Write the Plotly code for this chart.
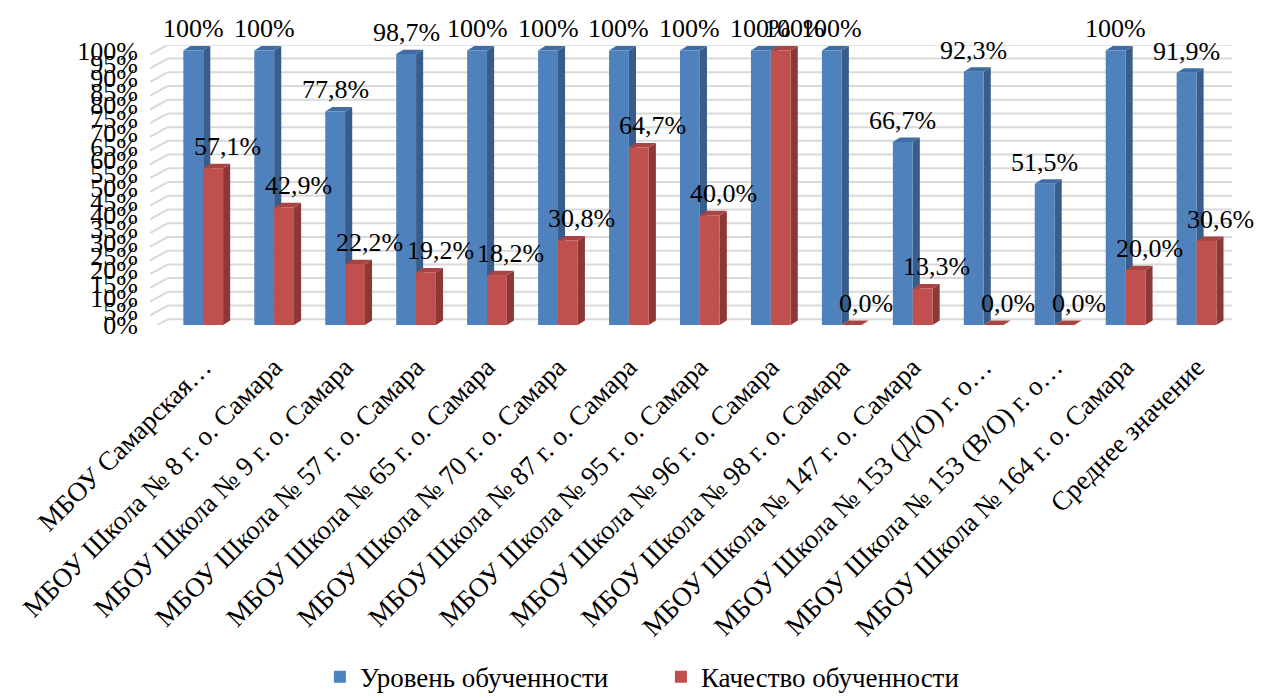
import plotly.graph_objects as go

categories = [
    "МБОУ Самарская…",
    "МБОУ Школа № 8 г. о. Самара",
    "МБОУ Школа № 9 г. о. Самара",
    "МБОУ Школа № 57 г. о. Самара",
    "МБОУ Школа № 65 г. о. Самара",
    "МБОУ Школа № 70 г. о. Самара",
    "МБОУ Школа № 87 г. о. Самара",
    "МБОУ Школа № 95 г. о. Самара",
    "МБОУ Школа № 96 г. о. Самара",
    "МБОУ Школа № 98 г. о. Самара",
    "МБОУ Школа № 147 г. о. Самара",
    "МБОУ Школа № 153 (Д/О) г. о…",
    "МБОУ Школа № 153 (В/О) г. о…",
    "МБОУ Школа № 164 г. о. Самара",
    "Среднее значение",
]
level = [100, 100, 77.8, 98.7, 100, 100, 100, 100, 100, 100, 66.7, 92.3, 51.5, 100, 91.9]
quality = [57.1, 42.9, 22.2, 19.2, 18.2, 30.8, 64.7, 40.0, 100, 0.0, 13.3, 0.0, 0.0, 20.0, 30.6]
series_names = ["Уровень обученности", "Качество обученности"]
y_ticks = list(range(0, 101, 5))

FONT = "Liberation Serif, Times New Roman, serif"
BLUE, BLUE_SIDE, BLUE_TOP = "#4F81BD", "#385D8A", "#3E6CA3"
RED, RED_SIDE, RED_TOP = "#C0504D", "#8C3836", "#A84543"
GRID = "#D9D9D9"


def fmt(v):
    return "100%" if v == 100 else f"{v:.1f}".replace(".", ",") + "%"


xs = list(range(len(categories)))
BW = 0.28           # bar width in category units
DX, DY = 0.10, 1.6  # 3D depth offsets (x units, y units)
X_LEFT = -0.75      # room for the left "wall"
X_RIGHT = len(categories) - 0.5

fig = go.Figure()
fig.add_trace(go.Bar(x=xs, y=level, name=series_names[0], marker_color=BLUE,
                     marker_line_width=0, hoverinfo="skip"))
fig.add_trace(go.Bar(x=xs, y=quality, name=series_names[1], marker_color=RED,
                     marker_line_width=0, hoverinfo="skip"))

shapes = []
annotations = []

# back-wall gridlines and left-wall diagonals
for t in y_ticks:
    shapes.append(dict(type="line", xref="x", yref="y", layer="below",
                       x0=-0.5, x1=X_RIGHT, y0=t + DY * 1.3, y1=t + DY * 1.3,
                       line=dict(color=GRID, width=2)))
    shapes.append(dict(type="line", xref="x", yref="y", layer="below",
                       x0=X_LEFT, x1=-0.5, y0=t - 1.5, y1=t + DY * 1.3,
                       line=dict(color=GRID, width=2)))

for k, (vals, side, top) in enumerate([(level, BLUE_SIDE, BLUE_TOP), (quality, RED_SIDE, RED_TOP)]):
    for i, v in enumerate(vals):
        x0 = i - BW + k * BW
        x1 = x0 + BW
        shapes.append(dict(type="path", xref="x", yref="y", layer="between",
                           path=f"M {x1},0 L {x1+DX},{DY} L {x1+DX},{v+DY} L {x1},{v} Z",
                           fillcolor=side, line_width=0))
        shapes.append(dict(type="path", xref="x", yref="y", layer="between",
                           path=f"M {x0},{v} L {x1},{v} L {x1+DX},{v+DY} L {x0+DX},{v+DY} Z",
                           fillcolor=top, line_width=0))
        annotations.append(dict(x=(x0 + x1) / 2, y=v, xref="x", yref="y", text=fmt(v),
                                showarrow=False, yanchor="bottom",
                                xshift=(0 if k == 0 else 14), yshift=5,
                                font=dict(family=FONT, size=26, color="black")))

# The page body adds an 8px offset, so the figure is laid out 8px smaller.
fig.update_layout(
    width=1258, height=690,
    margin=dict(l=142, r=34, t=37, b=373),
    paper_bgcolor="white", plot_bgcolor="white",
    barmode="group", bargap=0.44, bargroupgap=0,
    shapes=shapes, annotations=annotations,
    font=dict(family=FONT, color="black"),
    showlegend=True,
    legend=dict(orientation="h", xref="container", yref="container",
                x=0.519, y=0.03, xanchor="center", yanchor="middle",
                font=dict(family=FONT, size=27), itemwidth=30,
                traceorder="normal", entrywidth=296, entrywidthmode="pixels"),
    xaxis=dict(range=[X_LEFT, X_RIGHT], tickmode="array", tickvals=xs,
               ticktext=categories, tickangle=-45, showgrid=False, zeroline=False,
               showline=False, ticks="", tickfont=dict(family=FONT, size=27),
               ticklabelstandoff=20, automargin=False),
    yaxis=dict(range=[0, 102], tickmode="array", tickvals=y_ticks,
               ticktext=[f"{t}%" for t in y_ticks], showgrid=False,
               zeroline=False, showline=False, automargin=False,
               ticks="", tickfont=dict(family=FONT, size=26), ticklabelstandoff=11),
)

fig.write_html("out.html")
